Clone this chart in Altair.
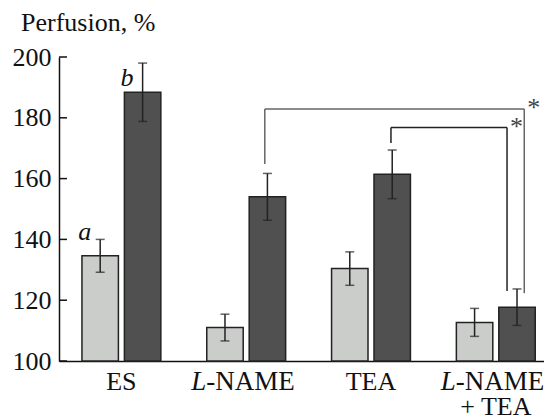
import altair as alt
import pandas as pd

groups = ["ES", "L-NAME", "TEA", "L-NAME + TEA"]
series = ["light", "dark"]
light_vals = [134.6, 111.0, 130.4, 112.7]
light_err = [5.4, 4.4, 5.5, 4.6]
dark_vals = [188.4, 154.0, 161.4, 117.7]
dark_err = [9.6, 7.7, 8.0, 6.0]
y_ticks = [100, 120, 140, 160, 180, 200]

# brackets: left x, right x, top y, left bottom y, right bottom y, color
brackets_lx = [1.649, 2.660]
brackets_rx = [3.728, 3.590]
brackets_top = [182.9, 176.8]
brackets_lbot = [164.8, 171.7]
brackets_rbot = [122.3, 123.0]
brackets_color = ["#666666", "#222222"]

# letter annotations above ES bars
letter_text = ["a", "b"]
letter_y = [139.7, 190.5]

FONT = "Liberation Serif"
FS = 26
W, H = 485, 304
STEP = 124.8
XMAX = W / STEP
HALF_GAP = 0.024
BAR_W = 0.292

rows = []
for i, g in enumerate(groups):
    c = i + 0.5
    rows.append(dict(group=g, s="light", x=c - HALF_GAP - BAR_W, x2=c - HALF_GAP,
                     xc=c - HALF_GAP - BAR_W / 2, v=light_vals[i],
                     lo=light_vals[i] - light_err[i], hi=light_vals[i] + light_err[i]))
    rows.append(dict(group=g, s="dark", x=c + HALF_GAP, x2=c + HALF_GAP + BAR_W,
                     xc=c + HALF_GAP + BAR_W / 2, v=dark_vals[i],
                     lo=dark_vals[i] - dark_err[i], hi=dark_vals[i] + dark_err[i]))
df = pd.DataFrame(rows)

xs = alt.Scale(domain=[0, XMAX], nice=False, zero=False)
ys = alt.Scale(domain=[100, 200], nice=False, zero=False)

base = alt.Chart(df)

bars = base.mark_bar(stroke="#222222", strokeWidth=1.5).encode(
    x=alt.X("x:Q", scale=xs, axis=alt.Axis(labels=False, ticks=False, grid=False,
                                          title=None, domainColor="#111111", domainWidth=1.5)),
    x2="x2:Q",
    y=alt.Y("v:Q", scale=ys, axis=alt.Axis(values=y_ticks, grid=False, title=None,
                                          tickSize=0, labelPadding=8, labelFont=FONT,
                                          labelFontSize=FS, labelColor="#111111",
                                          domainColor="#111111", domainWidth=1.5)),
    y2=alt.datum(100),
    fill=alt.Fill("s:N", scale=alt.Scale(domain=series, range=["#cbcdcb", "#505050"]), legend=None),
)

err = base.mark_rule(color="#222222", strokeWidth=1.5).encode(
    x=alt.X("xc:Q", scale=xs), y=alt.Y("lo:Q", scale=ys), y2="hi:Q")
cap_hi = base.mark_tick(color="#222222", thickness=1.5, size=9, orient="horizontal").encode(
    x=alt.X("xc:Q", scale=xs), y=alt.Y("hi:Q", scale=ys))
cap_lo = base.mark_tick(color="#222222", thickness=1.5, size=9, orient="horizontal").encode(
    x=alt.X("xc:Q", scale=xs), y=alt.Y("lo:Q", scale=ys))

tick_df = pd.DataFrame({"t": y_ticks})
yticks = alt.Chart(tick_df).mark_rule(color="#111111", strokeWidth=1.5).encode(
    x=alt.value(0), x2=alt.value(8), y=alt.Y("t:Q", scale=ys))

# brackets
seg = []
for k in range(2):
    seg.append(dict(k=k, xa=brackets_lx[k], xb=brackets_lx[k], ya=brackets_lbot[k], yb=brackets_top[k]))
    seg.append(dict(k=k, xa=brackets_lx[k], xb=brackets_rx[k], ya=brackets_top[k], yb=brackets_top[k]))
    seg.append(dict(k=k, xa=brackets_rx[k], xb=brackets_rx[k], ya=brackets_top[k], yb=brackets_rbot[k]))
seg_df = pd.DataFrame(seg)
br = alt.Chart(seg_df).mark_rule(strokeWidth=1.5).encode(
    x=alt.X("xa:Q", scale=xs), x2="xb:Q",
    y=alt.Y("ya:Q", scale=ys), y2="yb:Q",
    stroke=alt.Stroke("k:N", scale=alt.Scale(domain=[0, 1], range=brackets_color), legend=None))

star_df = pd.DataFrame({"sx": brackets_rx, "sy": brackets_top})
stars = alt.Chart(star_df).mark_text(font=FONT, fontSize=26, align="left", baseline="middle",
                                     dx=3, dy=-1).encode(
    x=alt.X("sx:Q", scale=xs), y=alt.Y("sy:Q", scale=ys), text=alt.value("*"),
    fill=alt.value("#444444"))

# letters a and b
let_df = pd.DataFrame({"x": [0.5 - HALF_GAP - BAR_W / 2, 0.5 + HALF_GAP + BAR_W / 2],
                       "y": letter_y, "t": letter_text})
letters = alt.Chart(let_df).mark_text(font=FONT, fontSize=FS, fontStyle="italic", align="right",
                                      baseline="alphabetic", dx=-9).encode(
    x=alt.X("x:Q", scale=xs), y=alt.Y("y:Q", scale=ys), text="t:N", fill=alt.value("#111111"))

# x labels
centers = [i + 0.5 for i in range(len(groups))]
plain_df = pd.DataFrame({"x": [centers[0], centers[2]], "t": [groups[0], groups[2]]})
plain = alt.Chart(plain_df).mark_text(font=FONT, fontSize=FS, baseline="alphabetic").encode(
    x=alt.X("x:Q", scale=xs), y=alt.value(H + 29), text="t:N", fill=alt.value("#111111"))
ln_df = pd.DataFrame({"x": [centers[1], centers[3]]})
l_it = alt.Chart(ln_df).mark_text(font=FONT, fontSize=27, fontStyle="italic", align="right",
                                  baseline="alphabetic", dx=-40).encode(
    x=alt.X("x:Q", scale=xs), y=alt.value(H + 29), text=alt.value("L"), fill=alt.value("#111111"))
l_rest = alt.Chart(ln_df).mark_text(font=FONT, fontSize=27, align="left",
                                    baseline="alphabetic", dx=-40).encode(
    x=alt.X("x:Q", scale=xs), y=alt.value(H + 29), text=alt.value("-NAME"), fill=alt.value("#111111"))
tea2 = alt.Chart(pd.DataFrame({"x": [centers[3]]})).mark_text(
    font=FONT, fontSize=FS, baseline="alphabetic").encode(
    x=alt.X("x:Q", scale=xs), y=alt.value(H + 54), text=alt.value("+ TEA"), fill=alt.value("#111111"))

title = alt.Chart(pd.DataFrame({"t": ["Perfusion, %"]})).mark_text(
    font=FONT, fontSize=FS, align="left", baseline="alphabetic").encode(
    x=alt.value(-38), y=alt.value(-26), text="t:N", fill=alt.value("#111111"))

chart = alt.layer(bars, err, cap_hi, cap_lo, yticks, br, stars, letters,
                  plain, l_it, l_rest, tea2, title).resolve_scale(
    fill="independent", stroke="independent"
).properties(
    width=W, height=H,
    autosize=alt.AutoSizeParams(type="none"),
    padding={"left": 51, "top": 49, "right": 0, "bottom": 59},
).configure(background="white", font=FONT, view=alt.ViewConfig(stroke=None))

chart.save("out.html", embed_options={"renderer": "svg", "actions": False})
